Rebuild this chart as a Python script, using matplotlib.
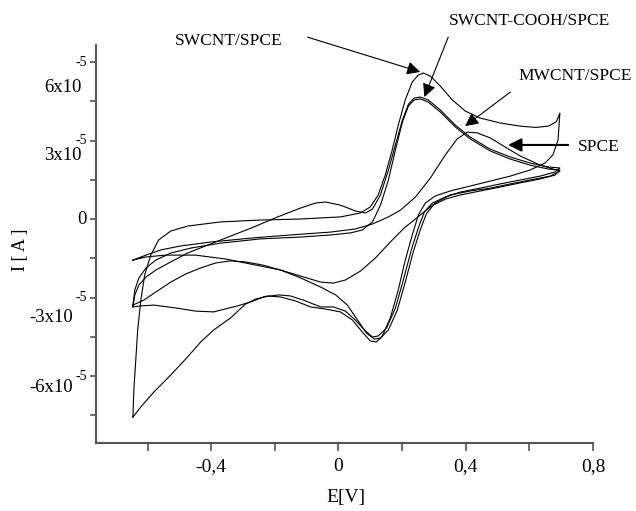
import matplotlib
matplotlib.use("Agg")
import matplotlib.pyplot as plt
import numpy as np

plt.rcParams['font.family'] = ['Liberation Serif', 'DejaVu Serif']

# ---- data (E in V, I in units of 1e-5 A) ----
swcnt_E = [-0.646,-0.643,-0.637,-0.631,-0.621,-0.609,-0.590,-0.565,-0.527,-0.474,-0.370,-0.245,-0.119,0.006,0.069,0.100,0.125,0.147,0.169,0.188,0.210,0.232,0.251,0.267,0.289,0.320,0.358,0.398,0.445,0.508,0.571,0.620,0.660,0.685,0.696,
           0.690,0.674,0.649,0.602,0.540,0.477,0.414,0.351,0.304,0.273,0.251,0.232,0.210,0.188,0.163,0.138,0.119,0.100,0.075,0.044,0.006,-0.041,-0.088,-0.135,-0.182,-0.223,-0.260,-0.292,-0.339,-0.392,-0.433,-0.474,-0.527,-0.580,-0.621,-0.646]
swcnt_I = [-7.57,-6.53,-5.39,-4.24,-3.10,-2.14,-1.38,-0.80,-0.46,-0.27,-0.11,-0.04,0.00,0.08,0.23,0.46,0.92,1.68,2.64,3.59,4.55,5.24,5.50,5.58,5.46,5.08,4.55,4.13,3.86,3.67,3.55,3.50,3.55,3.72,4.05,
           3.02,2.45,2.14,1.87,1.64,1.45,1.26,1.07,0.88,0.61,0.15,-0.61,-1.57,-2.71,-3.78,-4.47,-4.70,-4.66,-4.32,-3.86,-3.55,-3.44,-3.36,-3.13,-2.98,-2.94,-3.06,-3.25,-3.78,-4.24,-4.70,-5.27,-5.96,-6.61,-7.18,-7.57]

cooh_E = [-0.646,-0.640,-0.627,-0.605,-0.574,-0.527,-0.474,-0.370,-0.267,-0.191,-0.119,-0.072,-0.041,0.006,0.053,0.085,0.107,0.132,0.157,0.179,0.201,0.220,0.238,0.257,0.282,0.320,0.367,0.414,0.477,0.540,0.602,0.659,0.696,
          0.681,0.634,0.571,0.508,0.445,0.383,0.336,0.295,0.270,0.251,0.229,0.204,0.179,0.151,0.125,0.107,0.085,0.053,0.022,-0.016,-0.056,-0.110,-0.151,-0.188,-0.235,-0.276,-0.317,-0.392,-0.449,-0.511,-0.580,-0.621,-0.646]
cooh_I = [-3.36,-2.90,-2.52,-2.22,-1.95,-1.64,-1.30,-0.80,-0.31,0.08,0.42,0.61,0.65,0.53,0.31,0.23,0.38,0.92,1.87,2.83,3.78,4.39,4.62,4.66,4.55,4.17,3.59,3.13,2.67,2.37,2.14,1.99,1.95,
          1.80,1.64,1.49,1.34,1.18,1.03,0.84,0.61,0.27,-0.34,-1.18,-2.33,-3.40,-4.17,-4.47,-4.51,-4.28,-3.86,-3.52,-3.36,-3.36,-3.10,-2.94,-2.90,-2.98,-3.17,-3.32,-3.55,-3.52,-3.40,-3.29,-3.32,-3.36]

spce_E = [-0.646,-0.640,-0.627,-0.605,-0.574,-0.527,-0.464,-0.370,-0.245,-0.119,-0.025,0.038,0.075,0.107,0.132,0.157,0.179,0.201,0.220,0.238,0.257,0.282,0.320,0.367,0.414,0.477,0.540,0.602,0.659,0.696,
          0.681,0.634,0.571,0.508,0.445,0.383,0.336,0.298,0.276,0.257,0.235,0.210,0.185,0.157,0.132,0.113,0.088,0.060,0.028,-0.009,-0.056,-0.119,-0.182,-0.238,-0.292,-0.339,-0.386,-0.433,-0.480,-0.527,-0.574,-0.612,-0.646]
spce_I = [-3.29,-2.71,-2.25,-1.87,-1.57,-1.30,-1.11,-0.92,-0.76,-0.69,-0.61,-0.53,-0.42,-0.11,0.53,1.49,2.64,3.71,4.32,4.55,4.59,4.47,4.09,3.52,3.06,2.60,2.29,2.06,1.91,1.87,
          1.68,1.53,1.38,1.22,1.07,0.92,0.76,0.53,0.19,-0.42,-1.26,-2.41,-3.48,-4.24,-4.55,-4.59,-4.36,-3.86,-3.29,-2.90,-2.60,-2.25,-1.95,-1.76,-1.64,-1.60,-1.68,-1.87,-2.10,-2.41,-2.79,-3.10,-3.29]

mwcnt_E = [-0.646,-0.605,-0.558,-0.496,-0.402,-0.276,-0.151,-0.025,0.053,0.107,0.157,0.195,0.242,0.289,0.336,0.373,0.405,0.436,0.477,0.524,0.571,0.634,0.696,
           0.665,0.602,0.540,0.477,0.414,0.351,0.304,0.257,0.207,0.163,0.116,0.069,0.022,-0.016,-0.056,-0.119,-0.182,-0.260,-0.354,-0.449,-0.543,-0.605,-0.646]
mwcnt_I = [-1.57,-1.38,-1.18,-1.03,-0.88,-0.73,-0.61,-0.50,-0.38,-0.19,0.08,0.34,0.84,1.57,2.45,3.06,3.32,3.29,3.10,2.75,2.41,2.06,1.83,
           1.64,1.49,1.34,1.18,1.07,0.92,0.61,0.15,-0.34,-0.88,-1.49,-1.99,-2.33,-2.45,-2.41,-2.18,-1.95,-1.76,-1.53,-1.38,-1.38,-1.45,-1.57]

scale = 1e-5

x_major = [-0.4, 0.0, 0.4, 0.8]
x_major_labels = ["-0,4", "0", "0,4", "0,8"]
x_minor = [-0.6, -0.2, 0.2, 0.6]
y_major = [-6e-5, -3e-5, 0.0, 3e-5, 6e-5]
y_mant = ["-6x10", "-3x10", "0", "3x10", "6x10"]
y_exp = ["-5", "-5", "", "-5", "-5"]
y_minor = [-7.5e-5, -4.5e-5, -1.5e-5, 1.5e-5, 4.5e-5]

# ---- figure ----
W, H = 636, 511
fig = plt.figure(figsize=(W/100, H/100), dpi=100)
ax = fig.add_axes([96/W, (H-443)/H, (593-96)/W, (443-45)/H])

for E, I in [(swcnt_E, swcnt_I), (cooh_E, cooh_I), (spce_E, spce_I), (mwcnt_E, mwcnt_I)]:
    ax.plot(E, np.array(I)*scale, color='black', lw=0.8)

ax.set_xlim(-0.762, 0.8)
ax.set_ylim(-8.56e-5, 6.65e-5)

for s in ['top', 'right']:
    ax.spines[s].set_visible(False)
for s in ['left', 'bottom']:
    ax.spines[s].set_color('#555555')
    ax.spines[s].set_linewidth(1.5)

ax.set_xticks(x_major)
ax.set_xticklabels(x_major_labels, fontsize=14)
ax.set_xticks(x_minor, minor=True)
ax.tick_params(axis='x', which='both', direction='out', length=6, width=1.2, color='#555555', pad=5)
ax.set_yticks(y_major)
ax.set_yticklabels([])
ax.set_yticks(y_minor, minor=True)
ax.tick_params(axis='y', which='both', direction='out', length=4.5, width=1.2, color='#555555')

# y tick labels (mantissa below, exponent at tick level)
ytr = ax.get_yaxis_transform()
mant_dy = [11, 20, 0, 15, 25]      # pixel offsets below tick
mant_right = [73, 73, 87, 82, 82]  # pixel right edge
for v, m, e, dy, xr in zip(y_major, y_mant, y_exp, mant_dy, mant_right):
    ax.annotate(m, xy=(0, v), xycoords=ytr, xytext=((xr-96)*0.72, -dy*0.72),
                textcoords='offset points', ha='right', va='center', fontsize=13.5,
                annotation_clip=False)
    if e:
        ax.annotate(e, xy=(0, v), xycoords=ytr, xytext=((87-96)*0.72, 0),
                    textcoords='offset points', ha='right', va='center', fontsize=10,
                    annotation_clip=False)

fig.text(20/W, 1-250/H, "I [ A ]", rotation=90, ha='center', va='center', fontsize=13)
fig.text(346/W, 1-497/H, "E[V]", ha='center', va='center', fontsize=14)

# annotations
def label(text, txy, tail, tip, lw=0.8):
    ax.text(txy[0], txy[1]*scale, text, ha='center', va='center', fontsize=12.5, clip_on=False)
    ax.annotate("", xy=(tip[0], tip[1]*scale), xytext=(tail[0], tail[1]*scale),
                arrowprops=dict(arrowstyle='-|>', color='black', lw=lw, mutation_scale=20,
                                shrinkA=0, shrinkB=0), annotation_clip=False)

label("SWCNT/SPCE", (-0.345, 6.80), (-0.097, 6.95), (0.257, 5.62))
label("SWCNT-COOH/SPCE", (0.602, 7.55), (0.345, 6.95), (0.270, 4.66))
label("MWCNT/SPCE", (0.744, 5.46), (0.540, 4.85), (0.398, 3.55))
label("SPCE", (0.819, 2.75), (0.722, 2.83), (0.533, 2.83), lw=1.5)

fig.savefig("out.png", dpi=100)
